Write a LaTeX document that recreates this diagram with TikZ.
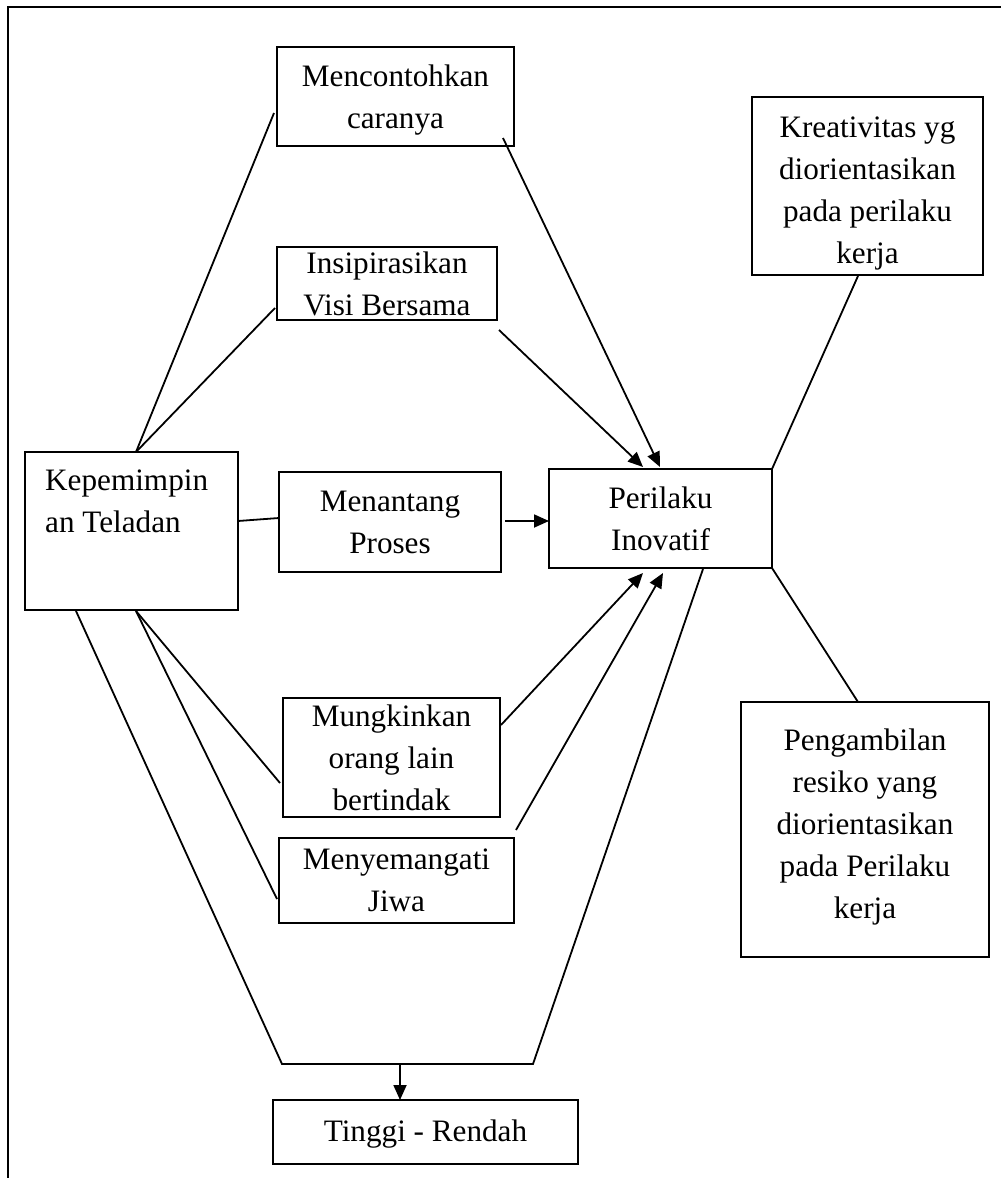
\documentclass[tikz,border=0pt]{standalone}
\usepackage{fontspec}
\setmainfont{Liberation Serif}
\usetikzlibrary{arrows.meta}
\begin{document}
\begin{tikzpicture}[x=1pt,y=-1pt,
  box/.style n args={2}{draw,line width=1.8pt,inner sep=0pt,minimum width=#1pt,minimum height=#2pt},
  txt/.style={font=\fontsize{31.2}{42}\selectfont,align=center,inner sep=0pt},
  ln/.style={line width=1.8pt},
  arr/.style={line width=1.8pt,-{Triangle[length=15pt,width=13pt]}}]
\useasboundingbox (0,0) rectangle (1001,1178);
% outer frame (top and left only)
\draw[line width=1.8pt] (1001,7) -- (8,7) -- (8,1178);
% boxes
\node[box={237}{99}] (mc) at (395.5,96.5) {};
\node[box={220}{73}] (isp) at (387,283.5) {};
\node[box={213}{158}] (kep) at (131.5,531) {};
\node[box={222}{100}] (men) at (390,522) {};
\node[box={223}{99}] (per) at (660.5,518.5) {};
\node[box={231}{178}] (kre) at (867.5,186) {};
\node[box={248}{255}] (pen) at (865,829.5) {};
\node[box={217}{119}] (mun) at (391.5,757.5) {};
\node[box={235}{85}] (mey) at (396.5,880.5) {};
\node[box={305}{64}] (tr) at (425.5,1132) {};
% texts
\node[txt] (tmc) at (395.5,100) {Mencontohkan\\caranya};
\node[txt] (tisp) at (isp) {Insipirasikan\\Visi Bersama};
\node[txt,anchor=north west,align=left] (tkep) at (45,470) {Kepemimpin\\an Teladan};
\node[txt] (tmen) at (men) {Menantang\\Proses};
\node[txt] (tper) at (per) {Perilaku\\Inovatif};
\node[txt] (tkre) at (867.5,193) {Kreativitas yg\\diorientasikan\\pada perilaku\\kerja};
\node[txt,anchor=north] (tpen) at (865,729) {Pengambilan\\resiko yang\\diorientasikan\\pada Perilaku\\kerja};
\node[txt] (tmun) at (mun) {Mungkinkan\\orang lain\\bertindak};
\node[txt] (tmey) at (mey) {Menyemangati\\Jiwa};
\node[txt] (ttr) at (425.5,1134) {Tinggi - Rendah};
% connector end points
\coordinate (kepT) at (136,452);
\coordinate (kepB) at (136,611);
\coordinate (kepBL) at (76,611);
\coordinate (kepR) at (238,521);
\coordinate (mcL) at (274,113);
\coordinate (mcR) at (503,138);
\coordinate (ispL) at (275,308);
\coordinate (ispR) at (499,330);
\coordinate (menL) at (279,518);
\coordinate (menR) at (505,521);
\coordinate (perL) at (549,521);
\coordinate (perT1) at (643,467);
\coordinate (perT2) at (660,467);
\coordinate (perB1) at (643,573);
\coordinate (perB2) at (663,573);
\coordinate (perBot) at (703,569);
\coordinate (perTR) at (772,469);
\coordinate (perBR) at (772,568);
\coordinate (kreB) at (858,276);
\coordinate (penT) at (858,702);
\coordinate (munL) at (280,783);
\coordinate (munR) at (501,725);
\coordinate (meyL) at (277,899);
\coordinate (meyR) at (516,830);
\coordinate (botR) at (533,1064);
\coordinate (botL) at (282,1064);
\coordinate (botM) at (400,1064);
\coordinate (trT) at (400,1100);
% connectors
\draw[ln] (kepT) -- (mcL);
\draw[ln] (kepT) -- (ispL);
\draw[ln] (kepR) -- (menL);
\draw[arr] (menR) -- (perL);
\draw[arr] (mcR) -- (perT2);
\draw[arr] (ispR) -- (perT1);
\draw[arr] (munR) -- (perB1);
\draw[arr] (meyR) -- (perB2);
\draw[ln] (kepB) -- (munL);
\draw[ln] (kepB) -- (meyL);
\draw[ln,line join=miter] (perBot) -- (botR) -- (botL) -- (kepBL);
\draw[arr] (botM) -- (trT);
\draw[ln] (perTR) -- (kreB);
\draw[ln] (perBR) -- (penT);
\end{tikzpicture}
\end{document}
